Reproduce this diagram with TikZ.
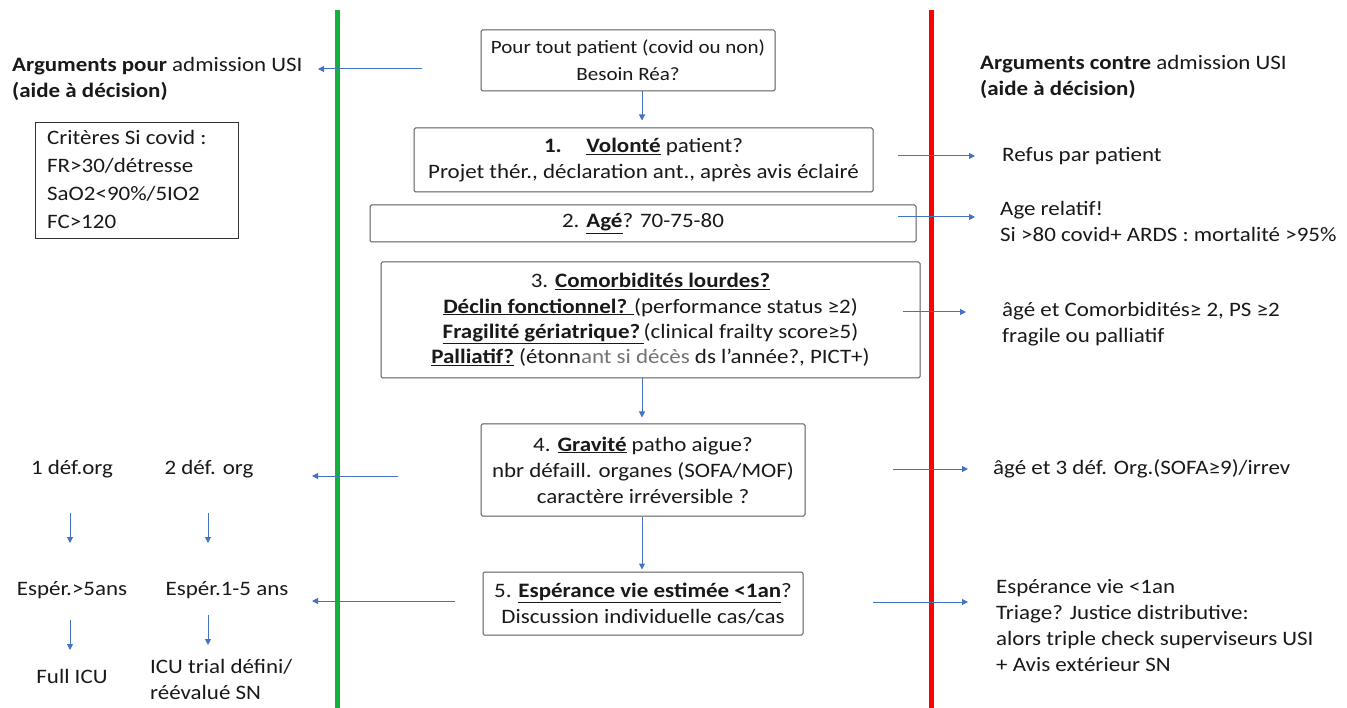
\documentclass[tikz,border=0pt]{standalone}
\usepackage{fontspec}
\setmainfont{Carlito}[FakeStretch=1.12]
\usetikzlibrary{arrows.meta}
\definecolor{arrblue}{RGB}{68,114,196}
\definecolor{vgreen}{RGB}{20,176,60}
\definecolor{vred}{RGB}{255,0,0}
\newcommand\myul[1]{\underline{#1}}
\begin{document}
\begin{tikzpicture}[x=1pt,y=-1pt,
 every node/.style={inner sep=0pt, font=\fontsize{20.5}{26}\selectfont, text=black!90},
 box/.style={draw=black!65, line width=1pt, rounded corners=1.5pt, align=center},
 arr/.style={draw=arrblue, line width=1pt, -{Triangle[length=6pt,width=6pt]}},
 txt/.style={anchor=west, align=left},
 ctxt/.style={align=center}]
\useasboundingbox[fill=white] (0,0) rectangle (1347,708);
% vertical separators
\draw[vgreen, line width=5pt] (337,10) -- (337,708);
\draw[vred, line width=5pt] (931,10) -- (931,708);

% titles
\node[txt] (tl) at (12,79) {\textbf{Arguments pour} admission USI\\\textbf{(aide à décision)}};
\node[txt] (tr) at (980,76.5) {\textbf{Arguments contre} admission USI\\\textbf{(aide à décision)}};

% left criteria box
\node[draw=black!80, line width=1pt, minimum width=203pt, minimum height=116pt, anchor=center] (crit) at (136.5,181) {};
\node[txt, font=\fontsize{20.5}{28}\selectfont] (critt) at (47,179) {Critères Si covid :\\FR>30/détresse\\SaO2<90\%/5IO2\\FC>120};

% central boxes
\node[box, minimum width=294pt, minimum height=61pt, font=\fontsize{18.8}{27}\selectfont] (b0) at (628,60.5) {Pour tout patient (covid ou non)\\Besoin Réa?};
\node[box, minimum width=459pt, minimum height=64pt] (b1) at (643.5,160) {\textbf{1.\hspace{1.2em}\myul{Volonté}} patient?\\Projet thér., déclaration ant., après avis éclairé};
\node[box, minimum width=546pt, minimum height=37pt] (b2) at (643,223.5) {2. \textbf{\myul{Agé}}? 70-75-80};
\node[box, minimum width=539pt, minimum height=116pt, font=\fontsize{20.5}{25.3}\selectfont] (b3) at (650.5,320) {3. \textbf{\myul{Comorbidités lourdes?}}\\
\textbf{\myul{Déclin fonctionnel? }}(performance status ≥2)\\
\textbf{\myul{Fragilité gériatrique?\,}}(clinical frailty score≥5)\\
\textbf{\myul{Palliatif?}} (étonn\textcolor{black!55}{ant si décès} ds l’année?, PICT+)};
\node[box, minimum width=324pt, minimum height=92pt] (b4) at (643,470) {4. \textbf{\myul{Gravité}} patho aigue?\\nbr défaill. organes (SOFA/MOF)\\caractère irréversible ?};
\node[box, minimum width=320pt, minimum height=63pt] (b5) at (643,603.5) {5. \textbf{\myul{Espérance vie estimée <1an}}?\\Discussion individuelle cas/cas};

% right texts
\node[txt] (r1) at (1002,156) {Refus par patient};
\node[txt] (r2) at (1000,221.5) {Age relatif!\\Si >80 covid+ ARDS : mortalité >95\%};
\node[txt] (r3) at (1002,324) {âgé et Comorbidités≥ 2, PS ≥2\\fragile ou palliatif};
\node[txt] (r4) at (993,469) {âgé et 3 déf. Org.(SOFA≥9)/irrev};
\node[txt] (r5) at (996,625.5) {Espérance vie <1an\\Triage? Justice distributive:\\alors triple check superviseurs USI\\+ Avis extérieur SN};

% left bottom texts
\node[ctxt] (l1) at (72,469) {1 déf.org};
\node[ctxt] (l2) at (209,469) {2 déf. org};
\node[ctxt] (l3) at (72,590) {Espér.>5ans};
\node[ctxt] (l4) at (227,590) {Espér.1-5 ans};
\node[ctxt] (l5) at (72,676) {Full ICU};
\node[txt] (l6) at (150,679) {ICU trial défini/\\réévalué SN};

% central arrows
\coordinate (ax) at (642,0);
\draw[arr, shorten >=7pt] (b0.south -| ax) -- (b1.north -| ax);
\draw[arr, shorten >=6pt] (b3.south -| ax) -- (b4.north -| ax);
\draw[arr, shorten >=2pt] (b4.south -| ax) -- (b5.north -| ax);

% left arrows
\coordinate (s0) at (422,69);  \coordinate (e0) at (318,69);
\coordinate (s4) at (398,476); \coordinate (e4) at (312,476);
\coordinate (s5) at (455,601); \coordinate (e5) at (312,601);
\draw[arr] (s0) -- (e0);
\draw[arr] (s4) -- (e4);
\draw[arr] (s5) -- (e5);

% right arrows
\coordinate (rs1) at (898,156); \coordinate (re1) at (975,156);
\coordinate (rs2) at (898,217); \coordinate (re2) at (975,217);
\coordinate (rs3) at (903,312); \coordinate (re3) at (966,312);
\coordinate (rs4) at (893,469); \coordinate (re4) at (968,469);
\coordinate (rs5) at (873,602); \coordinate (re5) at (968,602);
\draw[arr] (rs1) -- (re1);
\draw[arr] (rs2) -- (re2);
\draw[arr] (rs3) -- (re3);
\draw[arr] (rs4) -- (re4);
\draw[arr] (rs5) -- (re5);

% left vertical arrows
\coordinate (vx1) at (70,0); \coordinate (vx2) at (208,0);
\draw[arr, shorten <=44pt, shorten >=47pt] (l1 -| vx1) -- (l3 -| vx1);
\draw[arr, shorten <=44pt, shorten >=47pt] (l2 -| vx2) -- (l4 -| vx2);
\draw[arr, shorten <=30pt, shorten >=26pt] (l3 -| vx1) -- (l5 -| vx1);
\draw[arr, shorten <=25pt, shorten >=34pt] (l4 -| vx2) -- (l6 -| vx2);
\end{tikzpicture}
\end{document}
